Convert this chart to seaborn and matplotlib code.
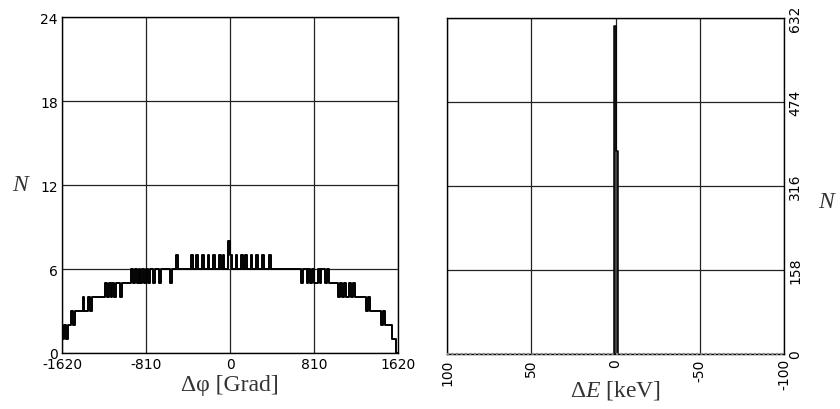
import matplotlib
matplotlib.use("Agg")
import numpy as np
import pandas as pd
import seaborn as sns
import matplotlib.pyplot as plt

# ---------------- data ----------------
# Left panel: N per 18-degree bin of delta-phi, from -1620 to 1620 (180 bins)
phi_range = [-1620, 1620]
phi_binwidth = 18
phi_counts = (
    [1, 2, 1, 2, 2, 3, 2, 3, 3, 3, 3]
    + [4, 3, 3, 4, 3, 4, 4, 4, 4, 4, 4, 4]
    + [5, 4, 5, 4, 5, 4, 5, 5, 4, 5, 5, 5, 5, 5]
    + [6, 5, 6, 5, 6, 5, 6, 5, 6, 5, 6, 6, 5, 6, 6, 5]
    + [6, 6, 6, 6, 6, 5, 6, 6, 7, 6, 6, 6, 6, 6, 6, 6]
    + [7, 6, 6, 7, 6, 6, 7, 6, 6, 7, 6, 6, 7, 6, 6, 7, 6, 7, 6, 6]
    + [8, 7, 6, 6, 7, 6, 6, 7, 6, 7, 6, 6, 7, 6, 6, 7, 6, 6, 7, 6, 6, 6, 7]
    + [6] * 16
    + [5, 6, 6, 5, 6, 5, 6, 5, 5, 6, 5, 6, 6, 5, 6, 5]
    + [5, 5, 5, 5]
    + [4, 5, 4, 5, 4, 4, 5, 4, 5, 4]
    + [4, 4, 4, 4, 4]
    + [3, 4, 3, 3]
    + [3, 3, 3, 3]
    + [2, 3, 2, 2]
    + [2, 2]
    + [1, 1, 0]
)
phi_ticks = [-1620, -810, 0, 810, 1620]
phi_ticklabels = ["-1620", "-810", "0", "810", "1620"]
n_left_ticks = [0, 6, 12, 18, 24]

# Right panel: N per energy bin (keV), narrow peak at 0
dE_range = [-1.4, 1.0]
dE_binwidth = 1.2
dE_centers = [-0.8, 0.4]
dE_counts = [382, 617]
dE_ticks = [100, 50, 0, -50, -100]
dE_ticklabels = ["100", "50", "0", "-50", "-100"]
n_right_ticks = [0, 158, 316, 474, 632]

# ---------------- style ----------------
sns.set_theme(style="white")
plt.rcParams["font.family"] = ["DejaVu Sans"]
plt.rcParams["mathtext.fontset"] = "custom"
plt.rcParams["mathtext.rm"] = "Liberation Serif"
plt.rcParams["mathtext.it"] = "Liberation Serif:italic"

fig = plt.figure(figsize=(8.4, 4.1), dpi=100)
ax1 = fig.add_axes([62 / 840, 1 - 354 / 410, 336 / 840, 336 / 410])
ax2 = fig.add_axes([447 / 840, 1 - 355 / 410, 337 / 840, 336 / 410])

# ---------------- left panel ----------------
n_bins = len(phi_counts)
phi_centers = [phi_range[0] + phi_binwidth * (i + 0.5) for i in range(n_bins)]
df_phi = pd.DataFrame({"phi": phi_centers, "N": phi_counts})
sns.histplot(data=df_phi, x="phi", weights="N", binwidth=phi_binwidth,
             binrange=tuple(phi_range), element="step",
             fill=False, color="black", linewidth=1.4, ax=ax1)
ax1.set_xlim(phi_range)
ax1.set_ylim(0, 24)
ax1.set_xticks(phi_ticks)
ax1.set_xticklabels(phi_ticklabels)
ax1.set_yticks(n_left_ticks)
ax1.set_yticklabels([str(v) for v in n_left_ticks])
ax1.tick_params(length=0, labelsize=10, pad=3, colors="black")
ax1.set_axisbelow(True)
ax1.grid(True, color="#222222", linewidth=0.9)
ax1.set_xlabel("Δφ [Grad]", family="Liberation Serif", fontsize=17, color="#333333")
ax1.xaxis.set_label_coords(0.5, -0.095)
ax1.xaxis.label.set_va("center")
ax1.set_ylabel("N", family="Liberation Serif", style="italic", fontsize=17,
               rotation=0, ha="center", va="center", color="#333333")
ax1.yaxis.set_label_coords(-0.125, 0.5)

# ---------------- right panel ----------------
df_e = pd.DataFrame({"dE": dE_centers, "N": dE_counts})
sns.histplot(data=df_e, x="dE", weights="N", binwidth=dE_binwidth,
             binrange=tuple(dE_range), element="step",
             fill=True, color="#444444", alpha=1, edgecolor="black",
             linewidth=1.1, ax=ax2)
ax2.axhline(0, color="#888888", linestyle=(0, (1, 1)), linewidth=1.6, clip_on=False, zorder=3)
ax2.set_xlim(100, -100)
ax2.set_ylim(0, 632)
ax2.set_xticks(dE_ticks)
ax2.set_xticklabels(dE_ticklabels, rotation=90, va="top")
ax2.yaxis.tick_right()
ax2.set_yticks(n_right_ticks)
ax2.set_yticklabels([str(v) for v in n_right_ticks], rotation=90, va="center")
ax2.tick_params(length=0, labelsize=10, pad=3, colors="black")
ax2.set_axisbelow(True)
ax2.grid(True, color="#222222", linewidth=0.9)
ax2.set_xlabel(r"$\Delta E$ [keV]", family="Liberation Serif", fontsize=17, color="#333333")
ax2.xaxis.set_label_coords(0.5, -0.105)
ax2.xaxis.label.set_va("center")
ax2.set_ylabel("N", family="Liberation Serif", style="italic", fontsize=17,
               rotation=0, ha="center", va="center", color="#333333")
ax2.yaxis.set_label_position("right")
ax2.yaxis.set_label_coords(1.124, 0.485)

for ax in (ax1, ax2):
    for s in ax.spines.values():
        s.set_visible(True)
        s.set_color("black")
        s.set_linewidth(1.0)

fig.savefig("out.png", dpi=100)
